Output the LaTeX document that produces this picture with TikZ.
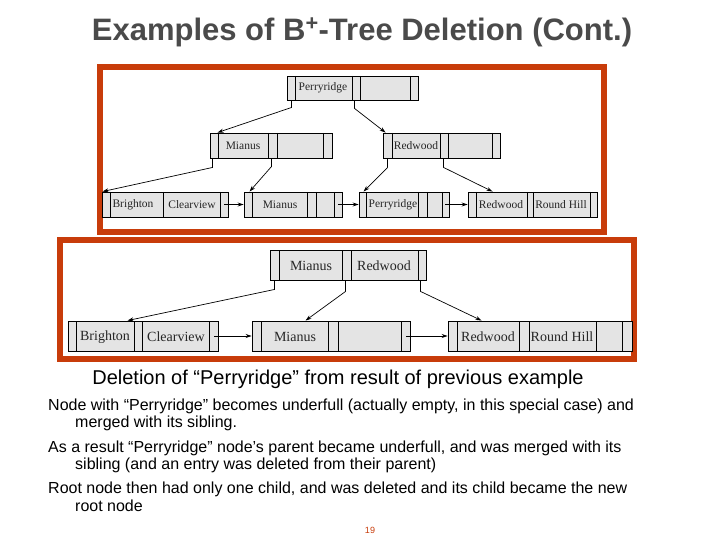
\documentclass[tikz,border=0pt]{standalone}
\usepackage{fontspec}
\setmainfont{Liberation Sans}
\newfontfamily\treefont{Liberation Serif}
\usetikzlibrary{arrows.meta}
\definecolor{frm}{HTML}{C83C0A}
\definecolor{cellg}{HTML}{E4E4E4}
\definecolor{ttl}{HTML}{4A4A4A}
\newcommand\bbox[6]{%
  \node[draw,line width=0.9pt,fill=cellg,inner sep=0pt,minimum width={(#3-#2)*1pt},minimum height={(#5-#4)*1pt}] (#1) at ({(#2+#3)/2},{(#4+#5)/2}) {};
  \foreach \d in {#6} \draw[line width=0.7pt] (\d,#4) -- (\d,#5);}
\begin{document}
\begin{tikzpicture}[x=1pt,y=-1pt,
  arr/.style={-{Stealth[length=6pt,width=4pt]},line width=0.7pt},
  ks/.style={font=\treefont\fontsize{11.5}{11.5}\selectfont,text=black!85,inner sep=0pt},
  kb/.style={font=\treefont\fontsize{14}{14}\selectfont,text=black!85,inner sep=0pt},
  tx/.style={anchor=west,inner sep=0pt,font=\fontsize{16}{16}\selectfont}]
\useasboundingbox[fill=white] (0,0) rectangle (720,540);
% title
\node[font=\bfseries\fontsize{31}{31}\selectfont,text=ttl] (title) at (362,32) {Examples of B\textsuperscript{+}-Tree Deletion (Cont.)};
% frames
\draw[frm,line width=6pt] (100,67) rectangle (604,232);
\draw[frm,line width=6pt] (60,240) rectangle (634,359);
% top tree
\bbox{tR}{287}{418}{76}{100}{295,352,360,410}
\node[ks] at (323,88) {Perryridge};
\bbox{tM}{210}{332}{133}{158}{218,268,277,323}
\node[ks] at (243,146) {Mianus};
\bbox{tW}{383}{500}{133}{158}{392,440,448,492}
\node[ks] at (416,146) {Redwood};
\bbox{l1}{102}{228}{192}{217}{110,163,220}
\node[ks] at (133,205) {Brighton};
\node[ks] at (192,205) {Clearview};
\bbox{l2}{244}{342}{192}{217}{252,307,316,334}
\node[ks] at (280,205) {Mianus};
\bbox{l3}{359}{449}{192}{217}{366,418,427,442}
\node[ks] at (393,205) {Perryridge};
\bbox{l4}{468}{597}{192}{217}{476,527,533,590}
\node[ks] at (501,205) {Redwood};
\node[ks] at (561,205) {Round Hill};
\draw[arr] ([xshift=5pt]tR.south west) -- ++(0,7) -- ([xshift=8pt]tM.north west);
\draw[arr] ([xshift=68pt]tR.south west) -- ++(0,8) -- ([xshift=3pt]tW.north west);
\draw[arr] ([xshift=3pt]tM.south west) -- ++(0,9) -- ([xshift=1pt]l1.north west);
\draw[arr] ([xshift=62pt]tM.south west) -- ++(0,8) -- ([xshift=6pt]l2.north west);
\draw[arr] ([xshift=5pt]tW.south west) -- ++(0,9) -- ([xshift=5pt]l3.north west);
\draw[arr] ([xshift=61pt]tW.south west) -- ++(0,9) -- ([xshift=25pt]l4.north west);
\draw[arr] ([xshift=-4pt]l1.east) -- (l2.west);
\draw[arr] ([xshift=-4pt]l2.east) -- (l3.west);
\draw[arr] ([xshift=-4pt]l3.east) -- (l4.west);
% bottom tree
\bbox{bR}{270}{426}{250}{280}{279,342,351,418}
\node[kb] at (311,266) {Mianus};
\node[kb] at (384,266) {Redwood};
\bbox{m1}{68}{218}{321}{351}{76,134,142,209}
\node[kb] at (105,337) {Brighton};
\node[kb] at (176,337) {Clearview};
\bbox{m2}{252}{410}{321}{351}{261,328,338,401}
\node[kb] at (295,337) {Mianus};
\bbox{m3}{448}{632}{321}{351}{457,519,529,596,622}
\node[kb] at (488,337) {Redwood};
\node[kb] at (562,337) {Round Hill};
\draw[arr] ([xshift=5pt]bR.south west) -- ++(0,9) -- ([xshift=60pt]m1.north west);
\draw[arr] ([xshift=76pt]bR.south west) -- ++(0,11) -- ([xshift=54pt]m2.north west);
\draw[arr] ([xshift=151pt]bR.south west) -- ++(0,11) -- ([xshift=34pt]m3.north west);
\draw[arr] ([xshift=-4pt]m1.east) -- (m2.west);
\draw[arr] ([xshift=-4pt]m2.east) -- (m3.west);
% texts
\node[font=\fontsize{20}{20}\selectfont] (cap) at (338,379) {Deletion of “Perryridge” from result of previous example};
\node[tx] (p1a) at (48,406) {Node with “Perryridge” becomes underfull (actually empty, in this special case) and};
\node[tx] (p1b) at (75,423) {merged with its sibling.};
\node[tx] (p2a) at (48,448) {As a result “Perryridge” node’s parent became underfull, and was merged with its};
\node[tx] (p2b) at (75,465) {sibling (and an entry was deleted from their parent)};
\node[tx] (p3a) at (48,489) {Root node then had only one child, and was deleted and its child became the new};
\node[tx] (p3b) at (75,506) {root node};
\node[font=\fontsize{9}{9}\selectfont,text=frm] (pg) at (370,530) {19};
\end{tikzpicture}
\end{document}
